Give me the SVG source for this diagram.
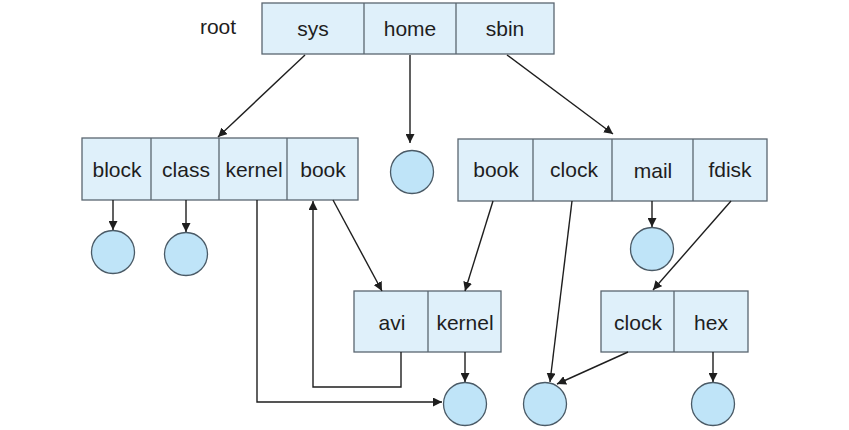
<svg xmlns="http://www.w3.org/2000/svg" width="849" height="430" viewBox="0 0 849 430">
<defs>
<marker id="ah" viewBox="0 0 10 10" refX="10" refY="5" markerWidth="9" markerHeight="9" markerUnits="userSpaceOnUse" orient="auto">
<path d="M0,0 L10,5 L0,10 z" fill="#1e1e1e"/>
</marker>
<style>
.box{fill:#dff0fa;stroke:#5a6670;stroke-width:1.3}
.div{stroke:#5a6670;stroke-width:1.3}
.t{font-family:"Liberation Sans",Arial,sans-serif;font-size:21px;fill:#1e1e1e;text-anchor:middle;dominant-baseline:central}
.c{fill:#bfe4f8;stroke:#4a5a66;stroke-width:1.3}
.ln{fill:none;stroke:#1e1e1e;stroke-width:1.4}
</style>
</defs>
<rect width="849" height="430" fill="#ffffff"/>
<text class="t" x="218" y="26">root</text>
<g id="rootdir">
<rect class="box" x="262" y="3" width="292" height="51"/>
<line class="div" x1="364" y1="3" x2="364" y2="54"/>
<line class="div" x1="456" y1="3" x2="456" y2="54"/>
<text class="t" x="313" y="28">sys</text>
<text class="t" x="410" y="28">home</text>
<text class="t" x="505" y="28">sbin</text>
</g>
<g id="sysdir">
<rect class="box" x="82" y="138" width="276" height="62"/>
<line class="div" x1="151" y1="138" x2="151" y2="200"/>
<line class="div" x1="219" y1="138" x2="219" y2="200"/>
<line class="div" x1="287" y1="138" x2="287" y2="200"/>
<text class="t" x="117" y="169">block</text>
<text class="t" x="186" y="169">class</text>
<text class="t" x="254" y="169">kernel</text>
<text class="t" x="323" y="169">book</text>
</g>
<g id="sbindir">
<rect class="box" x="458" y="139" width="309" height="62"/>
<line class="div" x1="533" y1="139" x2="533" y2="201"/>
<line class="div" x1="612" y1="139" x2="612" y2="201"/>
<line class="div" x1="693" y1="139" x2="693" y2="201"/>
<text class="t" x="496" y="169">book</text>
<text class="t" x="574" y="169">clock</text>
<text class="t" x="653" y="170">mail</text>
<text class="t" x="730" y="169">fdisk</text>
</g>
<g id="bookdir">
<rect class="box" x="354" y="291" width="147" height="61"/>
<line class="div" x1="428" y1="291" x2="428" y2="352"/>
<text class="t" x="392" y="322">avi</text>
<text class="t" x="465" y="322">kernel</text>
</g>
<g id="clockdir">
<rect class="box" x="601" y="291" width="147" height="61"/>
<line class="div" x1="674" y1="291" x2="674" y2="352"/>
<text class="t" x="638" y="322">clock</text>
<text class="t" x="711" y="322">hex</text>
</g>
<g id="f-home"><circle class="c" cx="412" cy="172" r="21.5"/></g>
<g id="f-block"><circle class="c" cx="113" cy="252" r="21.5"/></g>
<g id="f-class"><circle class="c" cx="186" cy="254" r="21.5"/></g>
<g id="f-mail"><circle class="c" cx="652" cy="249" r="21.5"/></g>
<g id="f-kernel"><circle class="c" cx="465" cy="404" r="21.5"/></g>
<g id="f-clock"><circle class="c" cx="545" cy="404" r="21.5"/></g>
<g id="f-hex"><circle class="c" cx="713" cy="404" r="21.5"/></g>
<g id="connectors">
<line class="ln" x1="305" y1="55" x2="218" y2="137" marker-end="url(#ah)"/>
<line class="ln" x1="410" y1="55" x2="410" y2="143" marker-end="url(#ah)"/>
<line class="ln" x1="507" y1="55" x2="613" y2="134" marker-end="url(#ah)"/>
<line class="ln" x1="113" y1="200" x2="113" y2="230" marker-end="url(#ah)"/>
<line class="ln" x1="186" y1="200" x2="186" y2="232" marker-end="url(#ah)"/>
<polyline class="ln" points="257,200 257,402 442,402" marker-end="url(#ah)"/>
<polyline class="ln" points="401,352 401,387 313,387 313,201" marker-end="url(#ah)"/>
<line class="ln" x1="333" y1="200" x2="382" y2="291" marker-end="url(#ah)"/>
<line class="ln" x1="465" y1="352" x2="465" y2="382" marker-end="url(#ah)"/>
<line class="ln" x1="493" y1="201" x2="465" y2="291" marker-end="url(#ah)"/>
<line class="ln" x1="572" y1="201" x2="550" y2="382" marker-end="url(#ah)"/>
<line class="ln" x1="731" y1="201" x2="653" y2="290" marker-end="url(#ah)"/>
<line class="ln" x1="652" y1="201" x2="652" y2="227" marker-end="url(#ah)"/>
<line class="ln" x1="628" y1="352" x2="557" y2="384" marker-end="url(#ah)"/>
<line class="ln" x1="713" y1="352" x2="713" y2="382" marker-end="url(#ah)"/>
</g>
</svg>
